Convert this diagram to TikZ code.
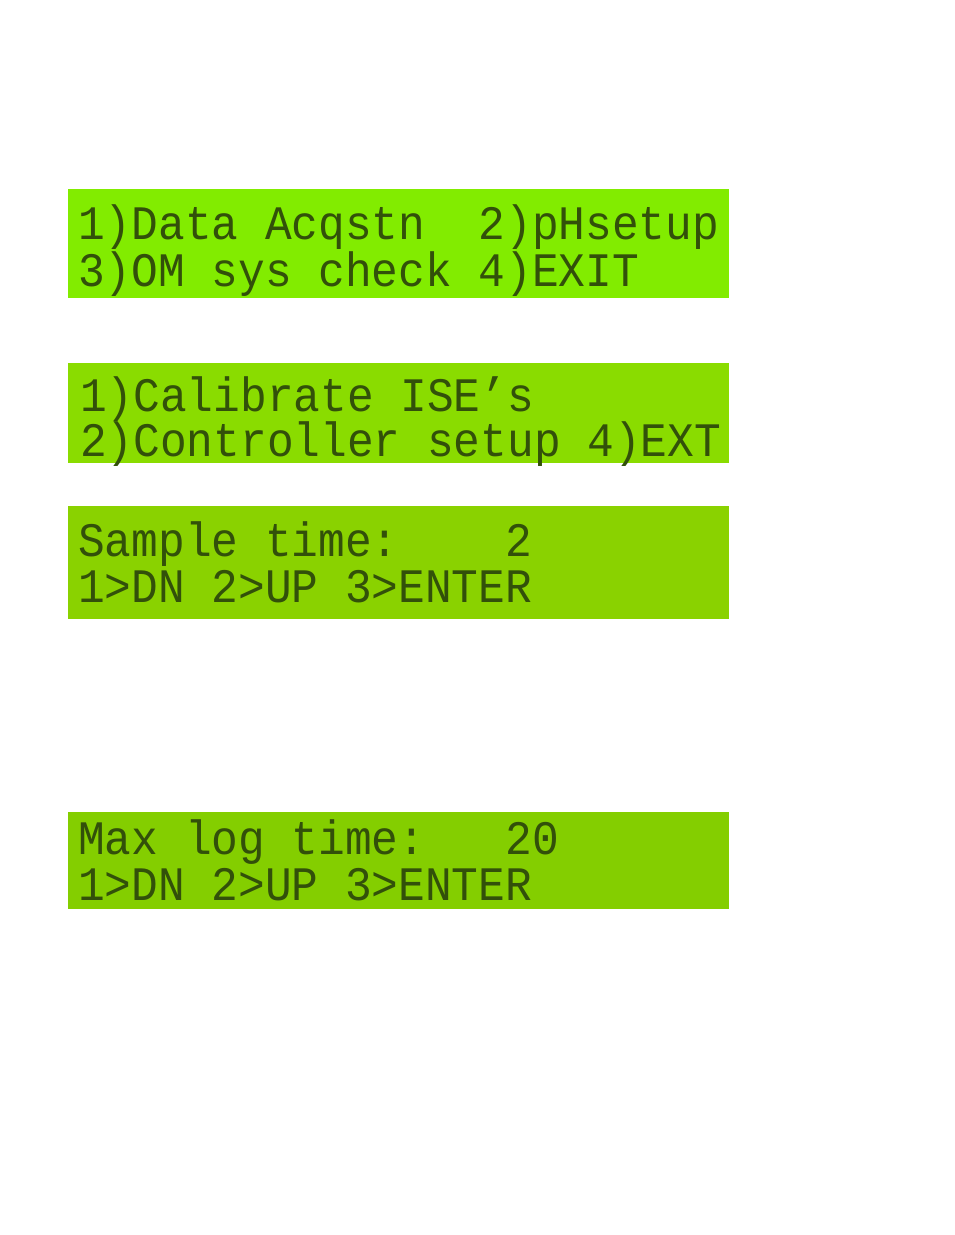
\documentclass[tikz,border=0pt]{standalone}
\usepackage{fontspec}
\newfontfamily\lcdfont{Liberation Mono}
\definecolor{lcdA}{RGB}{130,236,0}
\definecolor{lcdB}{RGB}{138,220,0}
\definecolor{lcdC}{RGB}{138,210,0}
\definecolor{lcdD}{RGB}{132,206,0}
\definecolor{lcdtext}{RGB}{50,80,10}
\begin{document}
\begin{tikzpicture}[x=1pt,y=-1pt,
  lcdline/.style={anchor=base west,inner sep=0pt,text=lcdtext,
    text depth=0pt,text height=30pt,
    font=\lcdfont\fontsize{44.5}{44.5}\selectfont,yscale=1.08}]
\useasboundingbox[fill=white] (0,0) rectangle (954,1235);
\fill[lcdA] (68,189) rectangle (729,298);
\fill[lcdB] (68,363) rectangle (729,463);
\fill[lcdC] (68,506) rectangle (729,619);
\fill[lcdD] (68,812) rectangle (729,909);
\node[lcdline] (p1a) at (78,239) {1)Data~Acqstn~~2)pHsetup};
\node[lcdline] (p1b) at (78,286) {3)OM~sys~check~4)EXIT};
\node[lcdline] (p2a) at (80,411) {1)Calibrate~ISE’s};
\node[lcdline] (p2b) at (80,456) {2)Controller~setup~4)EXT};
\node[lcdline] (p3a) at (78,556) {Sample~time:~~~~2};
\node[lcdline] (p3b) at (78,602) {1>DN~2>UP~3>ENTER};
\node[lcdline] (p4a) at (78,854) {Max~log~time:~~~20};
\node[lcdline] (p4b) at (78,900) {1>DN~2>UP~3>ENTER};
\end{tikzpicture}
\end{document}
